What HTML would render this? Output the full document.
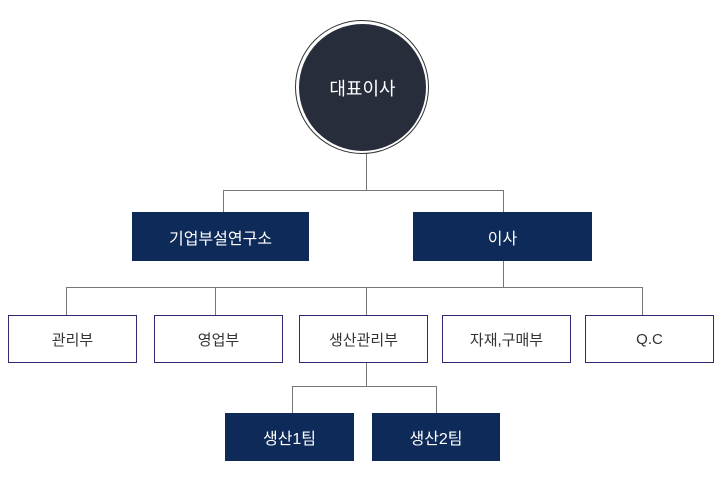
<!DOCTYPE html>
<html><head><meta charset="utf-8"><style>
body{margin:0;width:720px;height:500px;background:#fff;position:relative;overflow:hidden;font-family:"Liberation Sans","Noto Sans CJK KR",sans-serif}
.l{position:absolute;background:#777}
.b{position:absolute;box-sizing:border-box;display:flex;align-items:center;justify-content:center;font-size:15px}
.n{background:#0e2a58;color:#fff;font-size:16px}
.w{background:#fff;border:1.5px solid #2d2a75;color:#333}
</style></head><body>
<div class="l" style="left:366px;top:150px;width:1px;height:40px"></div>
<div class="l" style="left:223px;top:190px;width:281px;height:1px"></div>
<div class="l" style="left:223px;top:190px;width:1px;height:23px"></div>
<div class="l" style="left:503px;top:190px;width:1px;height:97px"></div>
<div class="l" style="left:66px;top:287px;width:577px;height:1px"></div>
<div class="l" style="left:66px;top:287px;width:1px;height:29px"></div>
<div class="l" style="left:215px;top:287px;width:1px;height:29px"></div>
<div class="l" style="left:366px;top:287px;width:1px;height:29px"></div>
<div class="l" style="left:642px;top:287px;width:1px;height:29px"></div>
<div class="l" style="left:366px;top:362px;width:1px;height:24px"></div>
<div class="l" style="left:292px;top:386px;width:145px;height:1px"></div>
<div class="l" style="left:292px;top:386px;width:1px;height:28px"></div>
<div class="l" style="left:436px;top:386px;width:1px;height:28px"></div>
<div style="position:absolute;left:295px;top:20px;width:134px;height:134px;border-radius:50%;border:1.5px solid #333;box-sizing:border-box;background:#fff"></div>
<div class="b" style="left:299px;top:24px;width:127px;height:127px;border-radius:50%;background:#272d3a;color:#fff;font-size:18px">대표이사</div>
<div class="b n" style="left:132px;top:212px;width:177px;height:49px">기업부설연구소</div>
<div class="b n" style="left:413px;top:212px;width:179px;height:49px">이사</div>
<div class="b w" style="left:8px;top:315px;width:129px;height:48px">관리부</div>
<div class="b w" style="left:154px;top:315px;width:129px;height:48px">영업부</div>
<div class="b w" style="left:299px;top:315px;width:129px;height:48px">생산관리부</div>
<div class="b w" style="left:442px;top:315px;width:129px;height:48px">자재,구매부</div>
<div class="b w" style="left:585px;top:315px;width:129px;height:48px">Q.C</div>
<div class="b n" style="left:225px;top:413px;width:129px;height:48px">생산1팀</div>
<div class="b n" style="left:372px;top:413px;width:128px;height:48px">생산2팀</div>
</body></html>
